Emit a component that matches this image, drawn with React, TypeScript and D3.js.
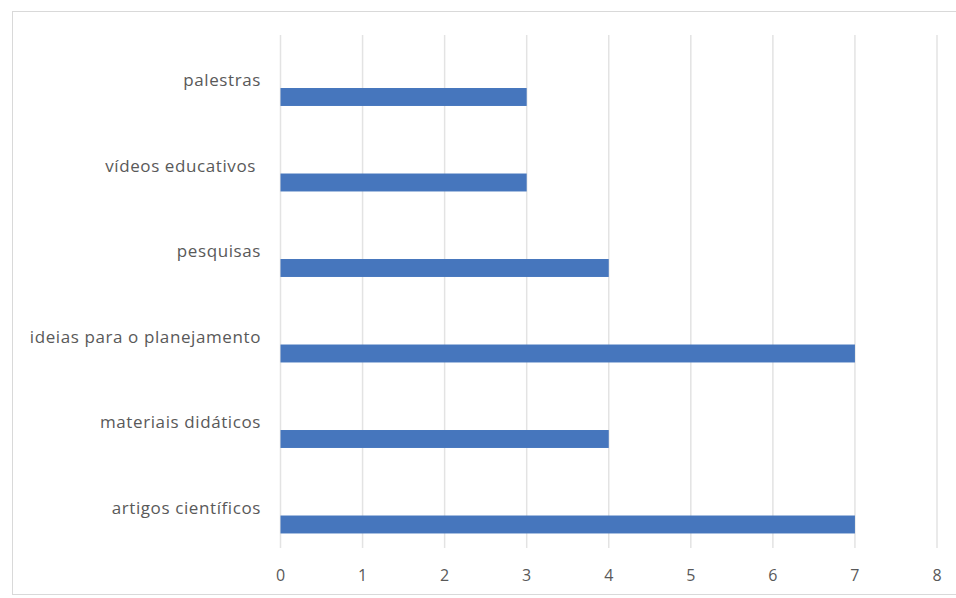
import React from "react";
import * as d3 from "d3";

const categories = [
  "palestras",
  "vídeos educativos ",
  "pesquisas",
  "ideias para o planejamento",
  "materiais didáticos",
  "artigos científicos",
];
const values = [3, 3, 4, 7, 4, 7];
const ticks = [0, 1, 2, 3, 4, 5, 6, 7, 8];

const W = 956;
const H = 598;

export default function App() {
  const x = d3.scaleLinear().domain([0, 8]).range([280.5, 937]);
  const y = d3.scaleBand<string>().domain(categories).range([35, 548]).paddingInner(0).paddingOuter(0);
  const bw = y.bandwidth();
  const font = "'Open Sans', 'Noto Sans', sans-serif";
  return (
    <svg
      width={W}
      height={H}
      style={{ position: "absolute", left: 0, top: 0, display: "block", background: "#fff" }}
    >
      <rect x={12.5} y={11.5} width={W + 10} height={583} fill="#fff" stroke="#d9d9d9" strokeWidth={1} />
      {ticks.map((t) => (
        <line key={t} x1={x(t)} x2={x(t)} y1={35} y2={548} stroke="#e3e3e3" strokeWidth={1.5} />
      ))}
      {categories.map((c, i) => {
        const top = y(c)!;
        const barTop = top + bw * 0.62;
        return (
          <g key={c}>
            <rect x={x(0)} y={barTop} width={x(values[i]) - x(0)} height={bw * 0.21} fill="#4676bd" />
            <text
              x={261}
              y={barTop - 2}
              textAnchor="end"
              fontFamily={font}
              fontSize={17}
              letterSpacing={0.6}
              fill="#595959"
              style={{ whiteSpace: "pre" }}
            >
              {c}
            </text>
          </g>
        );
      })}
      {ticks.map((t) => (
        <text
          key={t}
          x={x(t)}
          y={577}
          textAnchor="middle"
          dominantBaseline="middle"
          fontFamily={font}
          fontSize={16}
          fill="#595959"
        >
          {t}
        </text>
      ))}
    </svg>
  );
}
